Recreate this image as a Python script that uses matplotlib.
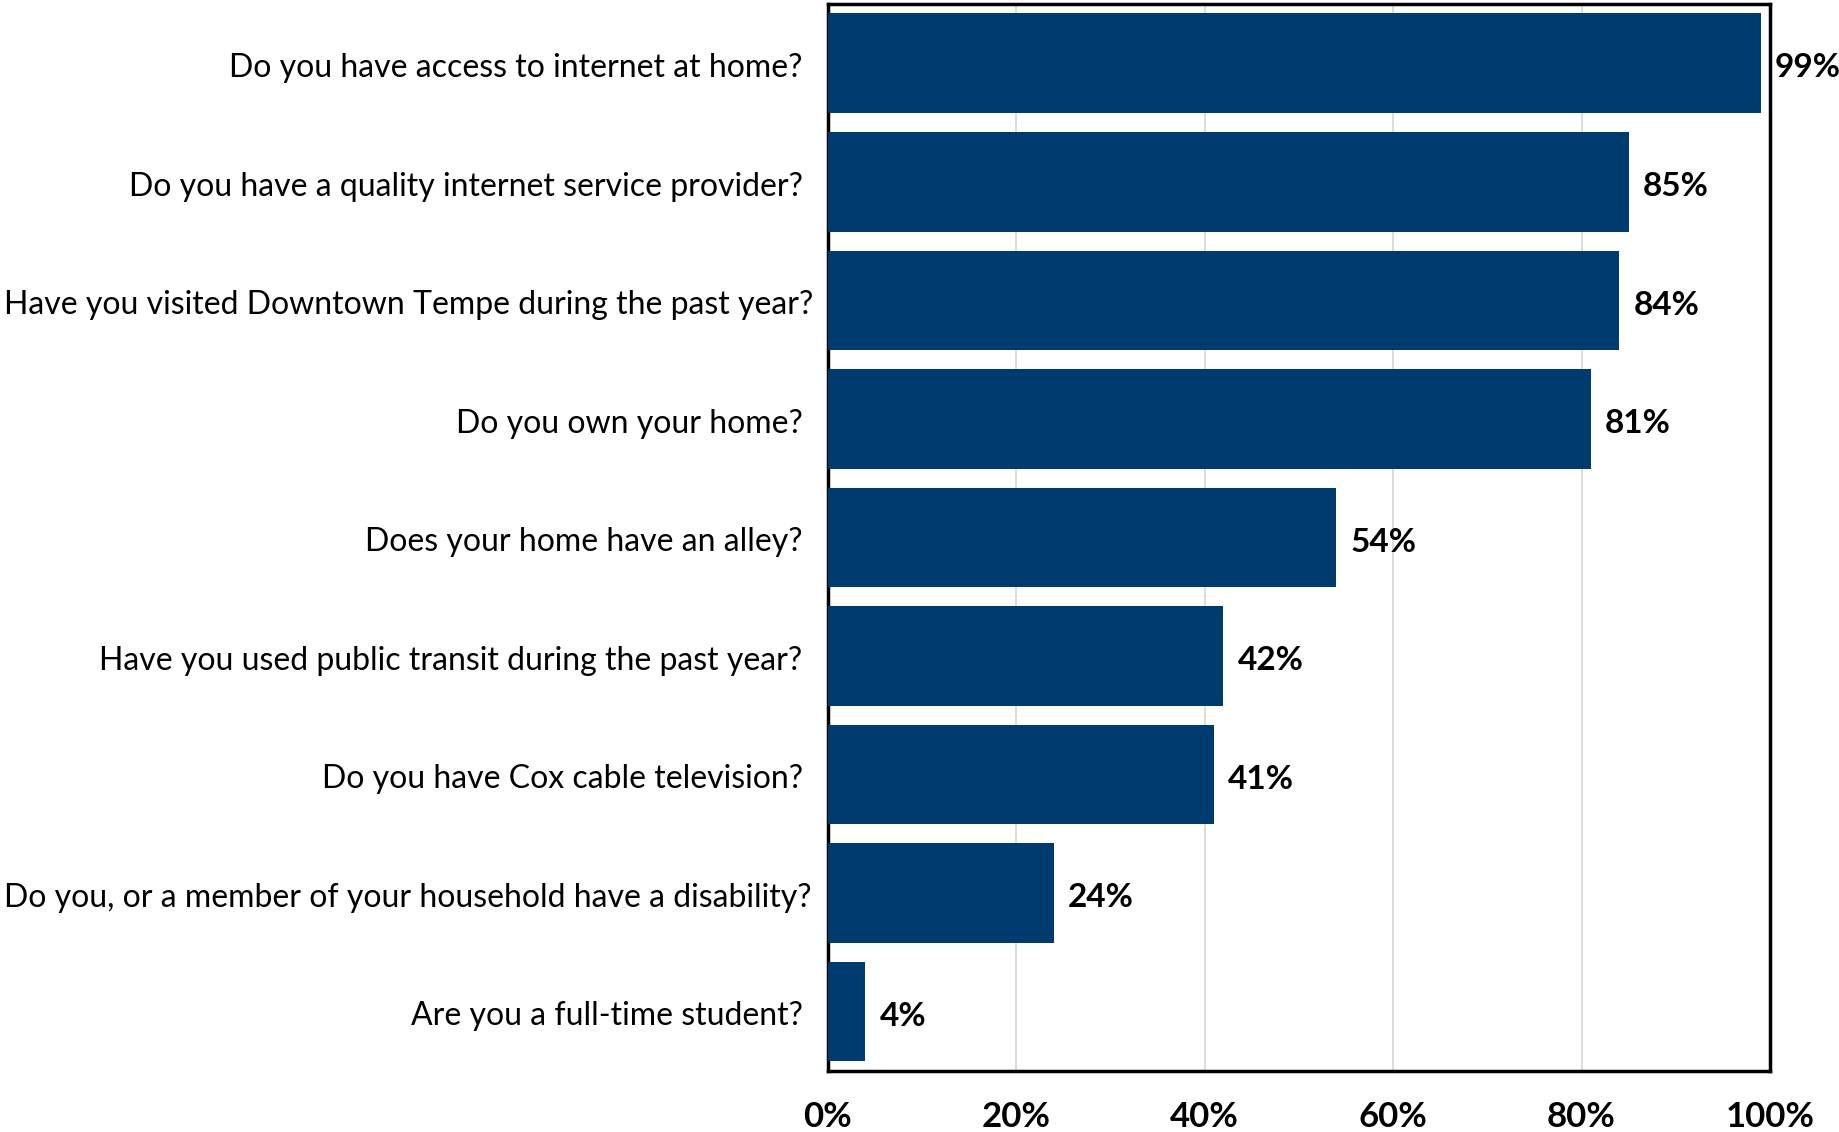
import matplotlib.pyplot as plt
from matplotlib.ticker import FuncFormatter
from matplotlib.transforms import ScaledTranslation

questions = [
    "Do you have access to internet at home?",
    "Do you have a quality internet service provider?",
    "Have you visited Downtown Tempe during the past year?",
    "Do you own your home?",
    "Does your home have an alley?",
    "Have you used public transit during the past year?",
    "Do you have Cox cable television?",
    "Do you, or a member of your household have a disability?",
    "Are you a full-time student?",
]
pct_yes = [99, 85, 84, 81, 54, 42, 41, 24, 4]
x_ticks = [0, 20, 40, 60, 80, 100]

plt.rcParams['font.family'] = ['Lato', 'DejaVu Sans']

fig = plt.figure(figsize=(18.39, 11.32), dpi=100)
ax = fig.add_axes([0.450, 0.054, 0.5125, 0.9425])

ypos = list(range(len(questions)))
ax.barh(ypos, pct_yes, height=0.84, color='#003b6f', zorder=3)

for y, v in zip(ypos, pct_yes):
    ax.text(v + 1.5, y + 0.04, f"{v}%", va='center', ha='left', fontsize=24,
            fontweight='bold', clip_on=False)

ax.set_xlim(0, 100)
ax.set_ylim(len(questions) - 0.5, -0.5)
ax.set_xticks(x_ticks)
ax.xaxis.set_major_formatter(FuncFormatter(lambda v, p: f"{v:.0f}%"))
ax.set_yticks(ypos)
ax.set_yticklabels([])
ax.tick_params(axis='y', length=0)
ax.tick_params(axis='x', length=0, pad=22, labelsize=25)
for lbl in ax.get_xticklabels():
    lbl.set_fontweight('bold')

# category labels, right-aligned left of the axis; long ones are nudged
# back inside the figure so they are not clipped
base = ax.get_yaxis_transform() + ScaledTranslation(-18 / 72, 0, fig.dpi_scale_trans)
labels = [ax.text(0, y + 0.04, q, transform=base, ha='right', va='center',
                  fontsize=23) for y, q in zip(ypos, questions)]
fig.canvas.draw()
renderer = fig.canvas.get_renderer()
for t in labels:
    x0 = t.get_window_extent(renderer).x0
    if x0 < 4:
        t.set_transform(base + ScaledTranslation((4 - x0) / fig.dpi, 0,
                                                 fig.dpi_scale_trans))

ax.grid(axis='x', color='#d9d9d9', linewidth=1.3, zorder=0)
for s in ax.spines.values():
    s.set_linewidth(2.5)
    s.set_color('black')

fig.savefig('out.png', dpi=100)
